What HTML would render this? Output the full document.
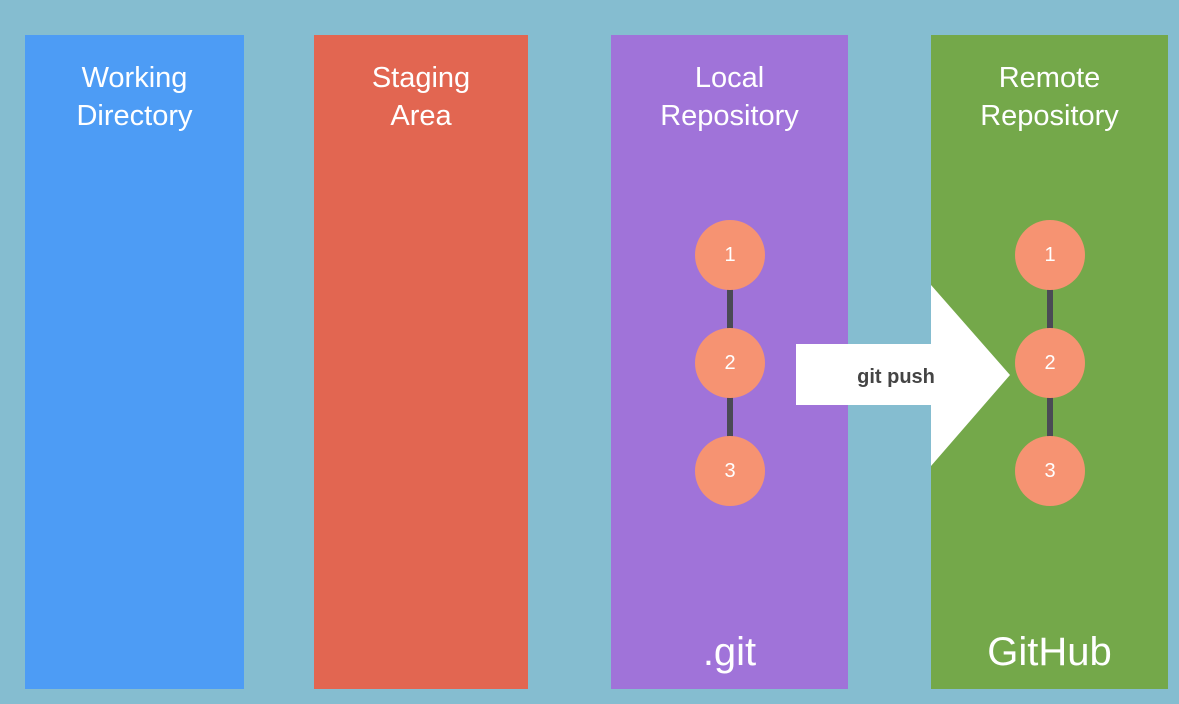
<!DOCTYPE html>
<html><head><meta charset="utf-8"><style>
body{margin:0;width:1179px;height:704px;background:#85bdd0;position:relative;overflow:hidden;font-family:"Liberation Sans",sans-serif}
.col{position:absolute;top:35px;height:654px}
.t{position:absolute;left:0;right:0;top:24px;text-align:center;color:#fff;font-size:29px;line-height:38px}
.b{position:absolute;left:0;right:0;top:594px;text-align:center;color:#fff;font-size:40px;line-height:46px}
.c{position:absolute;width:70px;height:70px;border-radius:50%;background:#f69372;color:#fff;font-size:20px;line-height:70px;text-align:center}
.l{position:absolute;width:6px;background:#4a4a55}
</style></head><body>
<div class="col" style="left:25px;width:219px;background:#4d9cf5"><div class="t">Working<br>Directory</div></div>
<div class="col" style="left:314px;width:214px;background:#e26651"><div class="t">Staging<br>Area</div></div>
<div class="col" style="left:611px;width:237px;background:#a073d9"><div class="t">Local<br>Repository</div><div class="b">.git</div></div>
<div class="col" style="left:931px;width:237px;background:#74a84a"><div class="t">Remote<br>Repository</div><div class="b">GitHub</div></div>
<div id="commits"></div>
<svg style="position:absolute;left:0;top:0" width="1179" height="704">
<polygon points="796,344 931,344 931,285 1010,375 931,466 931,405 796,405" fill="#fff"/>
<text x="896" y="383" text-anchor="middle" font-family="Liberation Sans" font-weight="bold" font-size="20" fill="#444">git push</text>
</svg>
<script>
const commits=["1","2","3"];
const repoX=[730,1050];
const top0=255,step=108;
const root=document.getElementById('commits');
repoX.forEach(cx=>{
 for(let i=0;i<commits.length-1;i++){
  const l=document.createElement('div');l.className='l';
  
  
  l.style.left=(cx-3)+'px';l.style.top=(top0+i*step)+'px';l.style.height=step+'px';root.appendChild(l);
 }
 commits.forEach((c,i)=>{
  const d=document.createElement('div');d.className='c';d.textContent=c;
  
  
  d.style.left=(cx-35)+'px';d.style.top=(top0+i*step-35)+'px';root.appendChild(d);
 });
});
</script>
</body></html>
